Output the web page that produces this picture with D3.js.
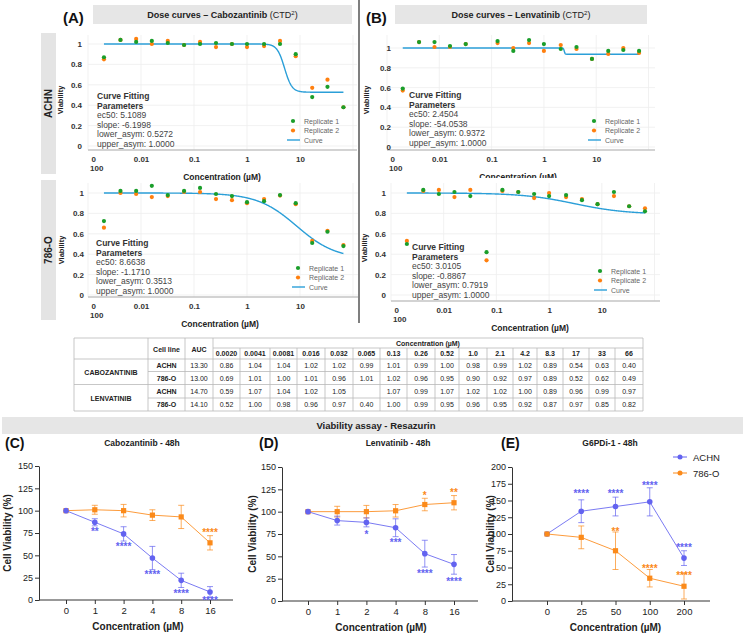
<!DOCTYPE html>
<html><head><meta charset="utf-8">
<script src="https://cdn.jsdelivr.net/npm/d3@7"></script>
<style>body{margin:0;background:#fff}svg{display:block;font-family:"Liberation Sans",Arial,sans-serif}</style>
</head><body><svg id="c" width="745" height="636"></svg>
<script>
// ---------------- DATA ----------------
const doseConc = [0.0020,0.0041,0.0081,0.016,0.032,0.065,0.13,0.26,0.52,1.0,2.1,4.2,8.3,17,33,66];
const doseTickValues = [0.001,0.01,0.1,1,10];
const doseTickLabels = ["0","0.01","0.1","1","10"];
const doseTickSub = "100";
const viabTicks = [0,0.2,0.4,0.6,0.8,1];
const viabTickLabels = ["0","0.2","0.4","0.6","0.8","1"];

const caboAchnRep1 = [0.87,1.04,1.02,1.03,1.01,0.99,1.00,1.01,1.00,1.00,1.00,1.00,0.90,0.48,0.58,0.38];
const caboAchnRep2 = [0.85,1.04,1.05,1.00,1.03,0.99,1.02,0.97,1.00,0.97,0.98,1.03,0.88,0.57,0.65,0.38];
const caboAchnFit = [5.1089,-6.1998,0.5272,1.0000];
const cabo786Rep1 = [0.725,1.02,1.02,1.07,0.98,1.02,1.05,0.99,0.97,0.91,0.92,0.98,0.90,0.51,0.62,0.48];
const cabo786Rep2 = [0.66,1.00,0.99,0.96,0.97,1.01,1.01,0.94,0.93,0.90,0.94,0.975,0.89,0.53,0.63,0.49];
const cabo786Fit = [8.6638,-1.1710,0.3513,1.0000];
const lenvAchnRep1 = [0.59,1.06,1.06,1.02,1.04,null,1.07,0.97,1.08,1.04,0.99,1.01,0.89,0.97,0.98,0.97];
const lenvAchnRep2 = [0.57,1.06,1.01,1.01,1.04,null,1.05,1.00,1.05,0.97,1.03,0.99,0.89,0.94,1.00,0.95];
const lenvAchnFit = [2.4504,-54.0538,0.9372,1.0000];
const lenv786Rep1 = [0.50,1.03,0.99,1.01,0.97,0.42,1.03,1.01,0.99,0.97,0.98,0.93,0.89,1.01,0.87,0.82];
const lenv786Rep2 = [0.53,1.02,1.03,0.96,1.03,0.34,1.02,1.01,0.95,1.00,0.96,0.94,0.89,0.97,0.87,0.85];
const lenv786Fit = [3.0105,-0.8867,0.7919,1.0000];

const tableConcHeader = ["0.0020","0.0041","0.0081","0.016","0.032","0.065","0.13","0.26","0.52","1.0","2.1","4.2","8.3","17","33","66"];
const tableDrugs = ["CABOZANTINIB","LENVATINIB"];
const tableCellLines = ["ACHN","786-O","ACHN","786-O"];
const tableAUC = ["13.30","13.00","14.70","14.10"];
const tableCaboAchn = ["0.86","1.04","1.04","1.02","1.02","0.99","1.01","0.99","1.00","0.98","0.99","1.02","0.89","0.54","0.63","0.40"];
const tableCabo786 = ["0.69","1.01","1.00","1.01","0.96","1.01","1.02","0.96","0.95","0.90","0.92","0.97","0.89","0.52","0.62","0.49"];
const tableLenvAchn = ["0.59","1.07","1.04","1.02","1.05","","1.07","0.99","1.07","1.02","1.02","1.00","0.89","0.96","0.99","0.97"];
const tableLenv786 = ["0.52","1.00","0.98","0.96","0.97","0.40","1.00","0.99","0.95","0.96","0.95","0.92","0.87","0.97","0.85","0.82"];

const caboCats = ["0","1","2","4","8","16"];
const cabo48Achn = [100,87,74,47,22,9];
const cabo48AchnErr = [0,4,8,13,8,6];
const cabo48AchnSig = ["","**","****","****","****","****"];
const cabo48AchnSigY = [0,78,62,30,9,1];
const cabo48_786 = [100,101,100,95,93,64];
const cabo48_786Err = [0,5,7,6,13,8];
const cabo48_786Sig = ["","","","","","****"];
const cabo48_786SigY = [0,0,0,0,0,77];

const lenvCats = ["0","1","2","4","8","16"];
const lenv48Achn = [100,90,88,82,53,41];
const lenv48AchnErr = [0,5,5,10,15,11];
const lenv48AchnSig = ["","","*","***","****","****"];
const lenv48AchnSigY = [0,0,76,67,32,24];
const lenv48_786 = [100,100,100,101,108,110];
const lenv48_786Err = [0,6,7,7,7,8];
const lenv48_786Sig = ["","","","","*","**"];
const lenv48_786SigY = [0,0,0,0,120,123];

const g6pdCats = ["0","25","50","100","200"];
const g6pdAchn = [100,134,141,148,64];
const g6pdAchnErr = [0,17,14,21,11];
const g6pdAchnSig = ["","****","****","****","****"];
const g6pdAchnSigY = [0,162,163,175,82];
const g6pd786 = [100,95,75,34,22];
const g6pd786Err = [0,17,28,13,19];
const g6pd786Sig = ["","","**","****","****"];
const g6pd786SigY = [0,0,106,51,41];

const legendNames = ["ACHN","786-O"];

// ---------------- DRAW ----------------
const svg = d3.select('#c');
const GREEN = '#1a9e2a', ORANGE = '#ff7f0e', CURVE = '#2b9fd8';
const BLUE = '#6363f0', ORG2 = '#fb8a1a';

svg.append('line').attr('x1',359).attr('x2',359).attr('y1',0).attr('y2',323).attr('stroke','#555').attr('stroke-width',1.5);

function header(label, lx, bx, bw, parts){
  svg.append('text').attr('x',lx).attr('y',23).attr('font-size',15).attr('font-weight','bold').attr('fill','#111').text(label);
  svg.append('rect').attr('x',bx).attr('y',5).attr('width',bw).attr('height',19).attr('fill','#e6e6e6');
  const t = svg.append('text').attr('x',bx+bw/2).attr('y',18).attr('text-anchor','middle').attr('font-size',9).attr('fill','#222');
  t.append('tspan').attr('font-weight','bold').text(parts[0]);
  t.append('tspan').text(' (CTD');
  t.append('tspan').attr('font-size',6).attr('dy',-3).text('2');
  t.append('tspan').attr('dy',3).text(')');
}
header('(A)',63,93,259,['Dose curves – Cabozantinib']);
header('(B)',366,395,252,['Dose curves – Lenvatinib']);

[['ACHN',33,174],['786-O',180,320]].forEach(([lab,y1,y2])=>{
  svg.append('rect').attr('x',41).attr('y',y1).attr('width',15).attr('height',y2-y1).attr('fill','#e4e4e4');
  svg.append('text').attr('transform',`translate(52,${(y1+y2)/2}) rotate(-90)`).attr('text-anchor','middle')
    .attr('font-size',10).attr('font-weight','bold').attr('fill','#222').text(lab);
});

function logistic(x, f){ const [ec50,slope,lower,upper]=f; return lower + (upper-lower)/(1+Math.pow(x/ec50,-slope)); }

function dosePanel(p){
  const g = svg.append('g');
  const x = d3.scaleLog().domain([0.001,100]).range([p.x0, p.x0+5*p.dec]);
  const y = d3.scaleLinear().domain([0,1]).range([p.y0, p.y0-p.ky]);
  if (p.bgTop!==undefined) g.append('rect').attr('x',p.x0-20).attr('y',p.bgTop).attr('width',p.right-p.x0+22).attr('height',p.axisY-p.bgTop).attr('fill','#fff');
  g.selectAll('.hg').data(viabTicks).join('line').attr('x1',p.x0).attr('x2',p.right)
    .attr('y1',d=>y(d)).attr('y2',d=>y(d)).attr('stroke','#ededed').attr('stroke-width',0.8);
  g.selectAll('.vg').data(doseTickValues.concat([100])).join('line').attr('y1',p.top).attr('y2',p.axisY)
    .attr('x1',d=>x(d)).attr('x2',d=>x(d)).attr('stroke','#ededed').attr('stroke-width',0.8);
  g.append('line').attr('x1',p.x0).attr('x2',p.right).attr('y1',p.axisY).attr('y2',p.axisY).attr('stroke','#c4c4c4').attr('stroke-width',1.6);
  g.selectAll('.yl').data(viabTicks).join('text').attr('x',p.yLab).attr('y',d=>y(d)+3).attr('text-anchor','end')
    .attr('font-size',8).attr('font-weight','bold').attr('fill','#333').text((d,i)=>viabTickLabels[i]);
  const ax = g.append('g').attr('transform',`translate(0,${p.axisY})`)
    .call(d3.axisBottom(x).tickValues(doseTickValues).tickFormat((d,i)=>doseTickLabels[i]).tickSize(0).tickPadding(6));
  ax.select('.domain').remove();
  ax.selectAll('text').attr('font-size',8).attr('font-weight','bold').attr('fill','#333').attr('font-family','"Liberation Sans",Arial,sans-serif');
  ax.selectAll('.tick').filter((d,i)=>i===0).select('text').attr('text-anchor','start').attr('x',3);
  g.append('text').attr('x',x(0.001)+2).attr('y',p.axisY+20.5).attr('font-size',8).attr('font-weight','bold').attr('fill','#333').text(doseTickSub);
  g.append('text').attr('x',p.concX).attr('y',p.axisY+30).attr('text-anchor','middle').attr('font-size',8.5).attr('font-weight','bold').attr('fill','#222').text('Concentration (µM)');
  g.append('text').attr('transform',`translate(${p.viabX},${p.viabY}) rotate(-90)`).attr('text-anchor','middle')
    .attr('font-size',7.5).attr('font-weight','bold').attr('fill','#222').text('Viability');
  const xs = d3.range(0,601).map(i=>doseConc[0]*Math.pow(doseConc[doseConc.length-1]/doseConc[0], i/600));
  g.append('path').datum(xs).attr('fill','none').attr('stroke',CURVE).attr('stroke-width',1.4)
    .attr('d', d3.line().x(d=>x(d)).y(d=>y(logistic(d,p.fit))));
  const pts2 = doseConc.map((c,i)=>[c,p.r2[i]]).filter(d=>d[1]!==null);
  const pts1 = doseConc.map((c,i)=>[c,p.r1[i]]).filter(d=>d[1]!==null);
  g.selectAll('.p2').data(pts2).join('circle').attr('cx',d=>x(d[0])).attr('cy',d=>y(d[1])).attr('r',2.1).attr('fill',ORANGE);
  g.selectAll('.p1').data(pts1).join('circle').attr('cx',d=>x(d[0])).attr('cy',d=>y(d[1])).attr('r',2.1).attr('fill',GREEN);
  const lines = ['Curve Fitting','Parameters','ec50: '+p.fit[0].toFixed(4),'slope: '+p.fit[1].toFixed(4),
    'lower_asym: '+p.fit[2].toFixed(4),'upper_asym: '+p.fit[3].toFixed(4)];
  lines.forEach((s,i)=>{
    g.append('text').attr('x',p.tx).attr('y',p.ty+3+i*9.6).attr('font-size',8.5)
      .attr('font-weight',i<2?'bold':'normal').attr('fill',i<2?'#333':'#444').text(s);
  });
  const L = [['Replicate 1',GREEN],['Replicate 2',ORANGE]];
  L.forEach(([s,c],i)=>{
    g.append('circle').attr('cx',p.lx).attr('cy',p.ly+i*9.5).attr('r',2.1).attr('fill',c);
    g.append('text').attr('x',p.lx+11).attr('y',p.ly+i*9.5+2.5).attr('font-size',7).attr('fill','#666').text(s);
  });
  g.append('line').attr('x1',p.lx-6).attr('x2',p.lx+7).attr('y1',p.ly+19).attr('y2',p.ly+19).attr('stroke',CURVE).attr('stroke-width',1.4);
  g.append('text').attr('x',p.lx+11).attr('y',p.ly+21.5).attr('font-size',7).attr('fill','#666').text('Curve');
}

dosePanel({x0:88,dec:53,y0:146,ky:102,axisY:150,top:35,right:357,yLab:82,viabX:63,viabY:100,concX:222,
  r1:caboAchnRep1,r2:caboAchnRep2,fit:caboAchnFit,tx:97,ty:96,lx:293,ly:121});
dosePanel({x0:88,dec:53,y0:295,ky:102,axisY:297,top:183,right:358,yLab:84,viabX:64,viabY:250,concX:220,
  r1:cabo786Rep1,r2:cabo786Rep2,fit:cabo786Fit,tx:96,ty:243,lx:298,ly:268});
dosePanel({x0:387,dec:52.3,y0:147,ky:99,axisY:150,top:35,right:655,yLab:391,viabX:369,viabY:100,concX:518,
  r1:lenvAchnRep1,r2:lenvAchnRep2,fit:lenvAchnFit,tx:409,ty:95,lx:594,ly:121});
dosePanel({x0:391,dec:52.7,y0:295,ky:102,axisY:301,top:183,right:660,yLab:386,viabX:367,viabY:248,concX:530,bgTop:178,
  r1:lenv786Rep1,r2:lenv786Rep2,fit:lenv786Fit,tx:412,ty:247,lx:600,ly:271});

// ---------------- TABLE ----------------
(function(){
  const g = svg.append('g');
  const cx = [74,148,185,213,240,270,297,325,353,380,407,435,459,487,513,537,563,589,615,643];
  const ry = [338,348,359,371.5,384.5,398,411];
  const st = '#b9b9b9';
  const hl = (x1,x2,yy)=>g.append('line').attr('x1',x1).attr('x2',x2).attr('y1',yy).attr('y2',yy).attr('stroke',st).attr('stroke-width',0.8);
  const vl = (xx,y1,y2)=>g.append('line').attr('x1',xx).attr('x2',xx).attr('y1',y1).attr('y2',y2).attr('stroke',st).attr('stroke-width',0.8);
  hl(74,643,338); hl(213,643,348); hl(74,643,359); hl(148,643,371.5); hl(74,643,384.5); hl(148,643,398); hl(74,643,411);
  [74,148,185,213,643].forEach(xx=>vl(xx,338,411));
  cx.slice(4,19).forEach(xx=>vl(xx,348,411));
  const T = (s,x,y,b)=>g.append('text').attr('x',x).attr('y',y).attr('text-anchor','middle').attr('font-size',7)
     .attr('font-weight',b?'bold':'normal').attr('fill','#222').text(s);
  T('Cell line',166.5,351.5,true); T('AUC',199,351.5,true);
  T('Concentration (µM)',428,345.5,true);
  tableConcHeader.forEach((s,i)=>T(s,(cx[i+3]+cx[i+4])/2,356,true));
  T(tableDrugs[0],111,374.5,true); T(tableDrugs[1],111,400.5,true);
  const rows = [tableCaboAchn,tableCabo786,tableLenvAchn,tableLenv786];
  rows.forEach((r,j)=>{
    const yy = (ry[j+2]+ry[j+3])/2+2.5;
    T(tableCellLines[j],166.5,yy,true);
    T(tableAUC[j],199,yy,false);
    r.forEach((s,i)=>T(s,(cx[i+3]+cx[i+4])/2,yy,false));
  });
})();

svg.append('rect').attr('x',2).attr('y',417).attr('width',741).attr('height',17).attr('fill','#e6e6e6');
svg.append('text').attr('x',376).attr('y',429).attr('text-anchor','middle').attr('font-size',9.5).attr('font-weight','bold').attr('fill','#222').text('Viability assay - Resazurin');

// ---------------- C / D / E ----------------
function viabPanel(p){
  const g = svg.append('g');
  svg.append('text').attr('x',p.labX).attr('y',448).attr('font-size',14).attr('font-weight','bold').attr('fill','#111').text(p.label);
  svg.append('text').attr('x',p.titleX).attr('y',446).attr('text-anchor','middle').attr('font-size',8.5).attr('font-weight','bold').attr('fill','#222').text(p.title);
  const x = d3.scalePoint().domain(p.cats).range([p.xFirst,p.xLast]);
  const y = d3.scaleLinear().domain([0,p.yMax]).range([p.yBottom,p.yTop]);
  const ya = g.append('g').attr('transform',`translate(${p.axisX},0)`)
    .call(d3.axisLeft(y).tickValues(d3.range(0,p.yMax+1,p.yStep)).tickSize(4).tickSizeOuter(0).tickPadding(2));
  ya.select('.domain').attr('stroke','#333');
  ya.selectAll('line').attr('stroke','#333');
  ya.selectAll('text').attr('font-size',9).attr('fill','#222').attr('font-family','"Liberation Sans",Arial,sans-serif');
  const xa = g.append('g').attr('transform',`translate(0,${p.yBottom})`).call(d3.axisBottom(x).tickSize(4).tickPadding(3));
  xa.select('.domain').remove();
  xa.selectAll('line').attr('stroke','#333');
  xa.selectAll('text').attr('font-size',9.5).attr('fill','#222').attr('font-family','"Liberation Sans",Arial,sans-serif');
  g.append('line').attr('x1',p.axisX).attr('x2',p.xEnd).attr('y1',p.yBottom).attr('y2',p.yBottom).attr('stroke','#333');
  g.append('text').attr('x',(p.xFirst+p.xLast)/2).attr('y',p.yBottom+30).attr('text-anchor','middle').attr('font-size',10).attr('font-weight','bold').attr('fill','#222').text('Concentration (µM)');
  g.append('text').attr('transform',`translate(${p.ylabX},${(p.yTop+p.yBottom)/2}) rotate(-90)`).attr('text-anchor','middle')
    .attr('font-size',10).attr('font-weight','bold').attr('fill','#222').text('Cell Viability (%)');
  p.series.forEach(s=>{
    const d = p.cats.map((c,i)=>({c,v:s.vals[i],e:s.err[i],sig:s.sig[i],sy:s.sigY[i]}));
    g.append('path').datum(d).attr('fill','none').attr('stroke',s.color).attr('stroke-width',1).attr('stroke-opacity',0.85)
      .attr('d',d3.line().x(q=>x(q.c)).y(q=>y(q.v)));
    d.filter(q=>q.e>0).forEach(q=>{
      const xx=x(q.c);
      g.append('line').attr('x1',xx).attr('x2',xx).attr('y1',y(q.v-q.e)).attr('y2',y(q.v+q.e)).attr('stroke',s.color).attr('stroke-opacity',0.7);
      [q.v-q.e,q.v+q.e].forEach(v=>g.append('line').attr('x1',xx-3).attr('x2',xx+3).attr('y1',y(v)).attr('y2',y(v)).attr('stroke',s.color).attr('stroke-opacity',0.7));
    });
    if (s.shape==='sq') g.selectAll(null).data(d).join('rect').attr('x',q=>x(q.c)-2.6).attr('y',q=>y(q.v)-2.6).attr('width',5.2).attr('height',5.2).attr('fill',s.color);
    else g.selectAll(null).data(d).join('circle').attr('cx',q=>x(q.c)).attr('cy',q=>y(q.v)).attr('r',2.8).attr('fill',s.color);
    d.filter(q=>q.sig).forEach(q=>{
      g.append('text').attr('x',x(q.c)).attr('y',y(q.sy)+5).attr('text-anchor','middle').attr('font-size',10).attr('font-weight','bold').attr('fill',s.color).text(q.sig);
    });
  });
  if (p.legend){
    p.series.forEach((s,i)=>{
      const ly = 457+i*16;
      g.append('line').attr('x1',673).attr('x2',687).attr('y1',ly).attr('y2',ly).attr('stroke',s.color);
      g.append('circle').attr('cx',680).attr('cy',ly).attr('r',2.5).attr('fill',s.color);
      g.append('text').attr('x',693).attr('y',ly+3.5).attr('font-size',9.5).attr('fill','#222').text(legendNames[i]);
    });
  }
}
viabPanel({label:'(C)',labX:5,title:'Cabozantinib - 48h',titleX:142,cats:caboCats,xFirst:66,xLast:210,axisX:39,xEnd:233,
  yMax:150,yStep:25,yTop:466,yBottom:600,ylabX:11,
  series:[{vals:cabo48_786,err:cabo48_786Err,sig:cabo48_786Sig,sigY:cabo48_786SigY,color:ORG2,shape:'sq'},
          {vals:cabo48Achn,err:cabo48AchnErr,sig:cabo48AchnSig,sigY:cabo48AchnSigY,color:BLUE,shape:'c'}]});
viabPanel({label:'(D)',labX:259,title:'Lenvatinib - 48h',titleX:398,cats:lenvCats,xFirst:308,xLast:454,axisX:282,xEnd:478,
  yMax:150,yStep:25,yTop:467,yBottom:601,ylabX:256,
  series:[{vals:lenv48_786,err:lenv48_786Err,sig:lenv48_786Sig,sigY:lenv48_786SigY,color:ORG2,shape:'sq'},
          {vals:lenv48Achn,err:lenv48AchnErr,sig:lenv48AchnSig,sigY:lenv48AchnSigY,color:BLUE,shape:'c'}]});
viabPanel({label:'(E)',labX:501,title:'G6PDi-1 - 48h',titleX:610,cats:g6pdCats,xFirst:547,xLast:684,axisX:512,xEnd:710,
  yMax:200,yStep:25,yTop:467,yBottom:601,ylabX:494,legend:true,
  series:[{vals:g6pdAchn,err:g6pdAchnErr,sig:g6pdAchnSig,sigY:g6pdAchnSigY,color:BLUE,shape:'c'},
          {vals:g6pd786,err:g6pd786Err,sig:g6pd786Sig,sigY:g6pd786SigY,color:ORG2,shape:'sq'}]});
</script></body></html>
